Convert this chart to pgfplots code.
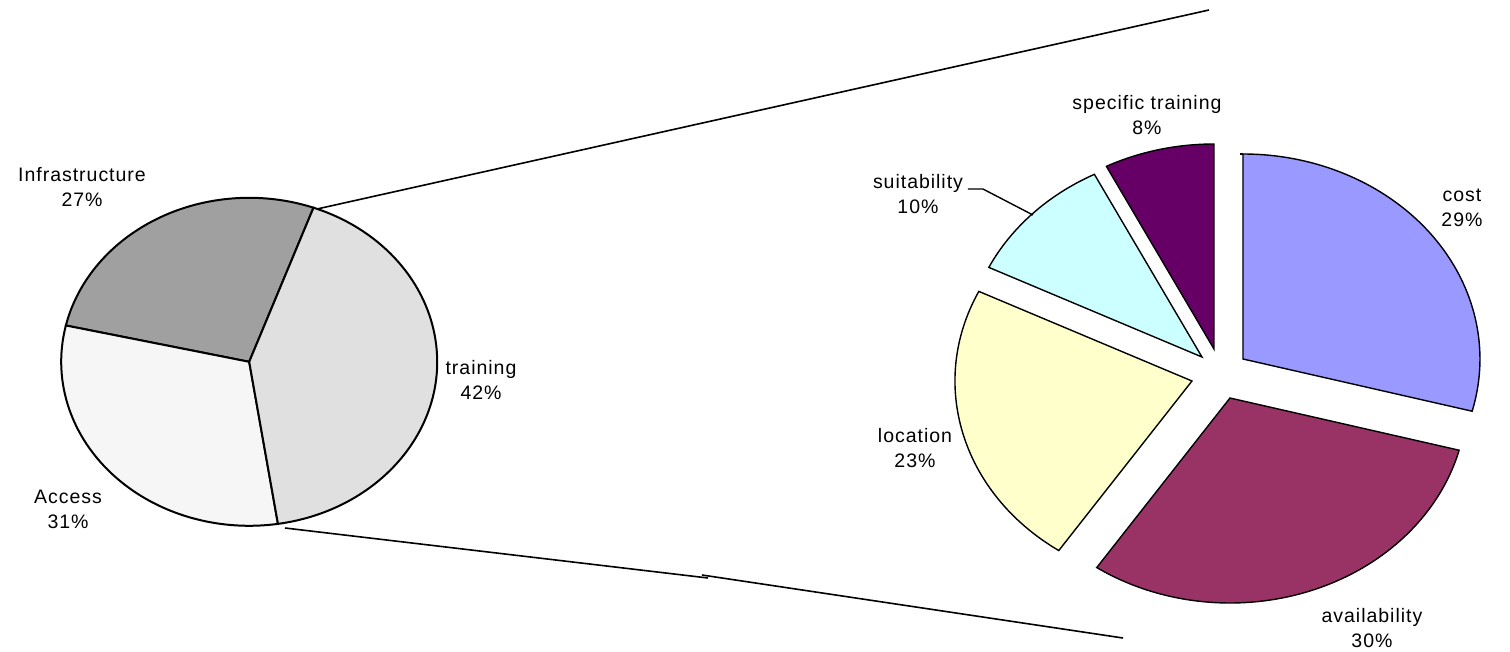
\documentclass[border=0pt]{standalone}
\usepackage{pgfplots}
\pgfplotsset{compat=1.18}
\usepackage{pgfplotstable}
\usepackage{fontspec}
\setmainfont{Liberation Sans}[LetterSpace=5]

\definecolor{cInfra}{HTML}{A0A0A0}
\definecolor{cAccess}{HTML}{F6F6F6}
\definecolor{cTrain}{HTML}{E0E0E0}
\definecolor{cCost}{HTML}{9999FF}
\definecolor{cAvail}{HTML}{993366}
\definecolor{cLoc}{HTML}{FFFFCC}
\definecolor{cSuit}{HTML}{CCFFFF}
\definecolor{cSpec}{HTML}{660066}

\tikzset{lbl/.style={align=center, inner sep=0pt, font=\fontsize{9.75bp}{12.5bp}\selectfont}}

% first pie: share of total (percent)
\pgfplotstableread{
label value
Infrastructure 27
Access 31
training 42
}\pieone
% second pie: breakdown of "training" (percent), apex of each exploded slice (px)
\pgfplotstableread{
label value apexx apexy
cost 29.1 1243 293
availability 30.4 1230 254
location 22.7 1192 271
suitability 10.3 1202 295
specific 7.5 1214 303
}\pietwo

\newcommand{\getval}[3]{\pgfplotstablegetelem{#1}{#2}\of#3\global\let\tmpval\pgfplotsretval}

\newcommand{\slice}[8]{% ax ay rx ry a1 a2 color linewidth
  \addplot[draw=black, line width=#8, fill=#7, mark=none] coordinates {(#1,#2)}
    -- ++(#5:#3 and #4) arc[start angle=#5, end angle=#6, x radius=#3, y radius=#4] -- cycle;
}

\begin{document}
\begin{tikzpicture}
% angles of first pie (counter-clockwise from 70 deg)
\getval{0}{value}{\pieone}\pgfmathsetmacro\vI{\tmpval}
\getval{1}{value}{\pieone}\pgfmathsetmacro\vA{\tmpval}
\getval{2}{value}{\pieone}\pgfmathsetmacro\vT{\tmpval}
\pgfmathsetmacro\lA{70}
\pgfmathsetmacro\lB{\lA+3.6*\vI}
\pgfmathsetmacro\lC{\lB+3.6*\vA}
\pgfmathsetmacro\lD{\lC+3.6*\vT}
% second pie (clockwise from 90 deg)
\getval{0}{value}{\pietwo}\pgfmathsetmacro\vCo{\tmpval}
\getval{1}{value}{\pietwo}\pgfmathsetmacro\vAv{\tmpval}
\getval{2}{value}{\pietwo}\pgfmathsetmacro\vLo{\tmpval}
\getval{3}{value}{\pietwo}\pgfmathsetmacro\vSu{\tmpval}
\getval{4}{value}{\pietwo}\pgfmathsetmacro\vSp{\tmpval}
\getval{0}{apexx}{\pietwo}\let\xCo\tmpval \getval{0}{apexy}{\pietwo}\let\yCo\tmpval
\getval{1}{apexx}{\pietwo}\let\xAv\tmpval \getval{1}{apexy}{\pietwo}\let\yAv\tmpval
\getval{2}{apexx}{\pietwo}\let\xLo\tmpval \getval{2}{apexy}{\pietwo}\let\yLo\tmpval
\getval{3}{apexx}{\pietwo}\let\xSu\tmpval \getval{3}{apexy}{\pietwo}\let\ySu\tmpval
\getval{4}{apexx}{\pietwo}\let\xSp\tmpval \getval{4}{apexy}{\pietwo}\let\ySp\tmpval
\pgfmathsetmacro\rA{90}
\pgfmathsetmacro\rB{\rA-3.6*\vCo}
\pgfmathsetmacro\rC{\rB-3.6*\vAv}
\pgfmathsetmacro\rD{\rC-3.6*\vLo}
\pgfmathsetmacro\rE{\rD-3.6*\vSu}
\pgfmathsetmacro\rF{\rE-3.6*\vSp}

\useasboundingbox (0,0) rectangle (755bp,326bp);
\begin{axis}[at={(0,0)}, anchor=south west, x=0.5bp, y=0.5bp,
  xmin=0, xmax=1510, ymin=0, ymax=652, hide axis, clip=false]
% first pie
\slice{249.2}{290.2}{94bp}{82bp}{\lA}{\lB}{cInfra}{1bp}
\slice{249.2}{290.2}{94bp}{82bp}{\lB}{\lC}{cAccess}{1bp}
\slice{249.2}{290.2}{94bp}{82bp}{\lC}{\lD}{cTrain}{1bp}
% second pie (exploded)
\slice{\xCo}{\yCo}{118.5bp}{102.5bp}{\rA}{\rB}{cCost}{0.7bp}
\slice{\xAv}{\yAv}{118.5bp}{102.5bp}{\rB}{\rC}{cAvail}{0.7bp}
\slice{\xLo}{\yLo}{118.5bp}{102.5bp}{\rC}{\rD}{cLoc}{0.7bp}
\slice{\xSu}{\ySu}{118.5bp}{102.5bp}{\rD}{\rE}{cSuit}{0.7bp}
\slice{\xSp}{\ySp}{118.5bp}{102.5bp}{\rE}{\rF}{cSpec}{0.7bp}
% connector lines
\addplot[black, line width=0.8bp, mark=none] coordinates {(317,443) (1209,642)};
\addplot[black, line width=0.8bp, mark=none] coordinates {(285,124) (708,74)};
\addplot[black, line width=0.8bp, mark=none] coordinates {(702,77) (1123,14)};
\addplot[black, line width=0.8bp, mark=none] coordinates {(1240,498) (1243,498)};
% leader line for suitability
\addplot[black, line width=0.7bp, mark=none] coordinates {(968,463) (983,463) (1033,437)};
% labels
\node[lbl] at (axis cs:82,465.5) {Infrastructure\\27\%};
\node[lbl] at (axis cs:481,272) {training\\42\%};
\node[lbl] at (axis cs:68,142.5) {Access\\31\%};
\node[lbl] at (axis cs:1147,536.5) {specific training\\8\%};
\node[lbl] at (axis cs:918,457.5) {suitability\\10\%};
\node[lbl] at (axis cs:1462,444.5) {cost\\29\%};
\node[lbl] at (axis cs:915,203.5) {location\\23\%};
\node[lbl] at (axis cs:1372,23.5) {availability\\30\%};
\end{axis}
\end{tikzpicture}
\end{document}
